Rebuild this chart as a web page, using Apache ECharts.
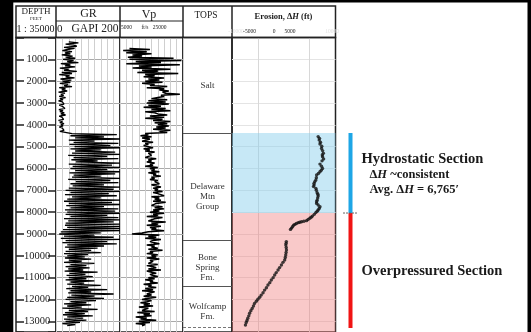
<!DOCTYPE html>
<html><head><meta charset="utf-8">
<script src="https://cdn.jsdelivr.net/npm/echarts@6/dist/echarts.min.js"></script>
<style>html,body{margin:0;padding:0;background:#fff}#c{width:531px;height:332px}</style>
</head><body><div id="c"></div>
<script>
// ---------------- DATA ----------------
const DEPTH_MIN = 0;
const DEPTH_MAX = 13490;          // depth at bottom edge of picture (ft)
const DEPTH_INTERVAL = 1000;

// Gamma ray (GAPI), sampled every 50 ft starting at 0 ft (null = no data)
const GR_START = 0, GR_STEP = 50;
const grValues = [
  null,null,null,null,40,70,30,55,65,25, 58,35,20,50,28,45,18,52,30,60,
  22,55,35,70,15,45,28,60,12,40, 25,65,18,50,10,42,30,58,14,48,
  20,45,12,38,25,50,10,30,18,35, 8,28,15,24,10,30,12,22,8,20,
  14,25,10,20,16,28,9,22,12,26, 15,30,10,18,14,24,8,20,12,25,
  15,22,10,20,14,25,12,18,50,190, 45,150,60,200,40,120,55,195,42,170,
  58,200,45,140,60,185,50,200,38,160, 55,195,48,130,62,200,40,175,52,200,
  45,160,60,200,42,185,55,140,50,200, 38,170,62,195,45,150,52,200,40,180,
  30,200,45,165,28,190,50,140,35,200, 25,175,40,200,32,150,45,195,28,185,
  35,200,30,160,45,195,25,200,38,180, 30,200,28,200,35,200,22,200,15,140,
  10,120,25,180,15,200,30,160,20,190, 35,150,28,130,40,110,30,140,25,100,
  35,90,28,110,40,80,25,120,45,95, 30,105,38,85,27,130,42,92,33,115,
  40,95,30,120,45,88,35,140,50,100, 32,160,45,110,38,180,48,120,35,150,
  30,125,45,95,25,110,35,80,20,130, 40,100,28,90,22,115,35,85,25,95,
  30,75,20,60,35
];

// Sonic velocity Vp (ft/s), sampled every 50 ft starting at 0 ft
const VP_START = 0, VP_STEP = 50;
const vpValues = [
  null,null,null,null,null,null,null,null,null,null, 8000,14500,6000,13500,7000,15000,9000,12000,7500,22000,
  8000,24500,10000,18000,7000,24000,11000,15000,9000,21000, 12000,17000,10500,23500,13000,16000,12500,19000,14000,17500,
  13000,18500,12000,16000,14500,20000,13500,19000,17500,20500, 18500,19500,24000,18000,19000,17000,15000,20000,14000,19500,
  13500,20500,14000,18000,12500,19500,15000,21000,13000,16000, 17000,20000,14500,19000,13000,18500,15500,21000,16000,20000,
  17000,20500,16500,19500,15500,21000,17500,20000,13000,14000, 11500,15000,12000,14500,13500,12000,15500,13000,14000,12500,
  14000,15500,12500,14500,13000,16000,14000,13500,15000,14500, 13000,16500,14000,15000,13500,16000,14500,15500,13000,17000,
  14500,16000,15000,17500,14000,16500,15500,18000,15000,16000, 14500,17000,16000,15500,17500,15000,16500,18000,15500,17000,
  16000,18500,15500,17000,16500,19000,15000,17500,16000,18000, 15500,19500,16500,17000,15000,18500,16000,19000,15500,17500,
  14500,19000,15500,17000,13500,18500,16000,16500,14000,19500, 15000,17000,13500,18000,14500,16500,15000,19000,14000,12000,
  8800,17500,14000,16500,13000,18000,15500,14500,16000,17500, 13500,16000,15000,17000,14000,18500,14500,15500,13500,17000,
  15000,16500,13500,17500,14500,15500,16000,14000,17000,13500, 15500,16500,14000,18000,13500,15000,16500,14500,15500,17000,
  14000,16000,13000,15500,14500,17000,12500,15000,14000,16500, 13000,15500,12000,16000,14500,13500,15000,12500,16500,13500,
  12000,15000,13500,11500,14500,12500,15500,11000,14000,13000, 12000,16000,10500,14500,12500,15000,10000,13500,11500,16500,
  11000,14500,10000,13000,12000
];

// Erosion estimate ΔH (ft) vs depth (ft)
const erosionDepth = [4540,4620,4700,4800,4880,4980,5080,5180,5300,5380,5460,5560,5650,5800,5900,6000,6080,6150,6230,6300,
  6420,6530,6600,6680,6760,6830,6910,7000,7110,7180,7260,7350,7450,7520,7600,7670,7750,7830,7900,7960,
  8020,8100,8180,8230,8280,8340,8390,8420,8440,8460,8480,8520,8560,8600,8670,8730,8790,
  9350,9430,9510,9620,9730,9850,9960,10080,10190,10300,10420,10540,10650,10770,10880,11000,11110,11230,
  11340,11460,11570,11690,11800,11900,11990,12080,12180,12300,12410,12520,12630,12750,12860,12960,13050,13170];
const erosionDH = [6650,6900,6850,7100,7000,7350,7300,7500,7650,7450,7500,7700,7400,7000,7300,7500,7250,7000,6700,6350,
  6300,6200,6000,5850,5850,5750,6200,6300,6450,6600,6650,6550,6450,6350,6350,6650,7000,6850,6650,6450,
  6200,5900,5550,5300,5050,4700,4400,3900,3450,3100,2800,2450,2150,1900,1700,1500,1300,
  500,450,400,480,520,450,380,300,180,-150,-450,-800,-1100,-1450,-1750,-2050,-2400,-2700,
  -3050,-3350,-3700,-4000,-4350,-4650,-5000,-5300,-5650,-5850,-6100,-6350,-6600,-6750,-6950,-7100,-7250,-7400];

// Formation tops (ft)
const topNames = ['Salt', 'Delaware\nMtn\nGroup', 'Bone\nSpring\nFm.', 'Wolfcamp\nFm.'];
const topDepths = [0, 4400, 9280, 11410, 13260];

// Pressure sections (ft)
const hydroTop = 4370;
const sectionBoundary = 8040;
const overBase = 13310;
const avgDH = '6,765';

// ---------------- CHART ----------------
const SERIF = 'Liberation Serif';
const TOP = 37.5;
const chart = echarts.init(document.getElementById('c'), null, {renderer: 'canvas'});

function track(left, width, show) {
  return {left: left, width: width, top: TOP, bottom: 0, show: show, borderColor: '#222', borderWidth: 1.5, backgroundColor: 'transparent'};
}
const grids = [track(16, 40, true), track(56, 64, true), track(120, 63, true), track(183, 49, true), track(232, 103.5, true), track(343, 15, false)];

function baseY(gi, extra) {
  return Object.assign({gridIndex: gi, type: 'value', inverse: true, min: DEPTH_MIN, max: DEPTH_MAX, interval: DEPTH_INTERVAL,
    axisLine: {show: false}, axisTick: {show: false}, axisLabel: {show: false}, splitLine: {show: false}}, extra || {});
}
const yAxes = [
  baseY(0, {position: 'left', axisTick: {show: true, inside: true, length: 8, lineStyle: {color: '#222', width: 1.5}},
    axisLabel: {show: true, inside: true, margin: 21, align: 'center', verticalAlign: 'middle', color: '#222', fontFamily: SERIF, fontSize: 10.5,
      formatter: v => (v > 0 && v % 1000 === 0) ? String(v) : ''}}),
  baseY(1, {position: 'left', axisTick: {show: true, inside: false, length: 8, lineStyle: {color: '#222', width: 1.5}},
    splitLine: {show: true, lineStyle: {color: '#aaa', width: 1}}}),
  baseY(2, {splitLine: {show: true, lineStyle: {color: '#aaa', width: 1}}}),
  baseY(3),
  baseY(4, {splitLine: {show: true, lineStyle: {color: '#e4e4e4', width: 1}}}),
  baseY(5)
];
function baseX(gi, min, max, interval, split) {
  return {gridIndex: gi, type: 'value', min: min, max: max, interval: interval,
    axisLine: {show: false}, axisTick: {show: false}, axisLabel: {show: false},
    splitLine: split ? {show: true, lineStyle: split} : {show: false}};
}
const xAxes = [
  baseX(0, 0, 1, 1, null),
  baseX(1, 0, 200, 20, {color: '#cfcfcf', width: 1}),
  baseX(2, 5000, 25000, 2000, {color: '#cfcfcf', width: 1}),
  baseX(3, 0, 1, 1, null),
  baseX(4, -10000, 10000, 5000, {color: ['rgba(0,0,0,0)', '#d8d8d8'], width: 1}),
  baseX(5, 0, 1, 1, null)
];

function logData(vals, start, step) {
  const out = [];
  vals.forEach((v, i) => { if (v !== null) out.push([v, start + i * step]); });
  return out;
}

const labelOffsets = [[0, 0], [0, 10], [0, 4], [0, 5]];
const topsAreas = topNames.map((n, i) => [
  {name: n, xAxis: 0, yAxis: topDepths[i], label: {offset: labelOffsets[i]}},
  {xAxis: 1, yAxis: topDepths[i + 1]}
]);
const topsLines = topDepths.slice(1).map((d, i, arr) => ({yAxis: d,
  lineStyle: {type: i === arr.length - 1 ? [3, 2] : 'solid', color: i === arr.length - 1 ? '#777' : '#555', width: i === arr.length - 1 ? 1 : 1.2}}));

const series = [
  {type: 'line', xAxisIndex: 1, yAxisIndex: 1, data: logData(grValues, GR_START, GR_STEP), showSymbol: false, symbol: 'none',
    lineStyle: {color: '#000', width: 1.3}, silent: true, animation: false, z: 3},
  {type: 'line', xAxisIndex: 2, yAxisIndex: 2, data: logData(vpValues, VP_START, VP_STEP), showSymbol: false, symbol: 'none',
    lineStyle: {color: '#000', width: 1.5}, silent: true, animation: false, z: 3},
  {type: 'line', xAxisIndex: 3, yAxisIndex: 3, data: [], silent: true, animation: false,
    markArea: {silent: true, itemStyle: {color: 'rgba(0,0,0,0)'},
      label: {show: true, position: 'inside', color: '#333', fontFamily: SERIF, fontSize: 9, lineHeight: 10, align: 'center', verticalAlign: 'middle'},
      data: topsAreas},
    markLine: {silent: true, symbol: 'none', label: {show: false}, animation: false, data: topsLines}},
  {type: 'scatter', xAxisIndex: 4, yAxisIndex: 4, data: erosionDH.map((v, i) => [v, erosionDepth[i]]),
    symbolSize: 3.4, itemStyle: {color: '#111'}, silent: true, animation: false, z: 2},
  {type: 'line', xAxisIndex: 4, yAxisIndex: 4, data: [], silent: true, animation: false, z: 4,
    markArea: {silent: true, data: [
      [{xAxis: -10000, yAxis: hydroTop, itemStyle: {color: 'rgba(135,206,235,0.47)'}}, {xAxis: 10000, yAxis: sectionBoundary}],
      [{xAxis: -10000, yAxis: sectionBoundary, itemStyle: {color: 'rgba(240,120,120,0.4)'}}, {xAxis: 10000, yAxis: DEPTH_MAX}]
    ]}},
  {type: 'line', xAxisIndex: 5, yAxisIndex: 5, data: [[0.5, hydroTop], [0.5, sectionBoundary]], symbol: 'none',
    lineStyle: {color: '#1ea6e6', width: 4}, silent: true, animation: false},
  {type: 'line', xAxisIndex: 5, yAxisIndex: 5, data: [[0.5, sectionBoundary], [0.5, overBase]], symbol: 'none',
    lineStyle: {color: '#f01414', width: 4}, silent: true, animation: false},
  {type: 'line', xAxisIndex: 5, yAxisIndex: 5, data: [[0, sectionBoundary], [1, sectionBoundary]], symbol: 'none',
    lineStyle: {color: '#666', width: 1, type: [2, 1]}, silent: true, animation: false, z: 5}
];

function txt(x, y, text, font, align, fill) {
  return {type: 'text', x: x, y: y, silent: true, z: 10,
    style: {text: text, font: font, fill: fill || '#222', align: align || 'center', verticalAlign: 'middle'}};
}
function rich(x, y, text, size, align) {
  return {type: 'text', x: x, y: y, silent: true, z: 10,
    style: {text: text, fill: '#1a1a1a', align: align || 'left', verticalAlign: 'middle',
      rich: {
        b: {fontFamily: SERIF, fontWeight: 'bold', fontSize: size, fill: '#1a1a1a'},
        i: {fontFamily: SERIF, fontWeight: 'bold', fontStyle: 'italic', fontSize: size, fill: '#1a1a1a'}
      }}};
}
function ln(x1, y1, x2, y2, w, c) {
  return {type: 'line', silent: true, z: 10, shape: {x1: x1, y1: y1, x2: x2, y2: y2}, style: {stroke: c || '#222', lineWidth: w}};
}

const graphics = [
  {type: 'rect', silent: true, z: 20, shape: {x: 0, y: 0, width: 13.3, height: 332}, style: {fill: '#000'}},
  {type: 'rect', silent: true, z: 20, shape: {x: 0, y: 0, width: 531, height: 2.5}, style: {fill: '#000'}},
  {type: 'rect', silent: true, z: 20, shape: {x: 527.5, y: 0, width: 4, height: 332}, style: {fill: '#000'}},
  {type: 'rect', silent: true, z: 10, shape: {x: 16, y: 6, width: 319.5, height: 31.5}, style: {fill: 'none', stroke: '#222', lineWidth: 1.5}},
  ln(56, 6, 56, TOP, 1.5), ln(120, 6, 120, TOP, 1.5), ln(183, 6, 183, TOP, 1.5), ln(232, 6, 232, TOP, 1.5),
  ln(56, 21, 183, 21, 1),
  txt(36, 11.5, 'DEPTH', '9px ' + SERIF),
  txt(36, 18.5, 'FEET', '5px ' + SERIF),
  txt(35.5, 29, '1 : 35000', '10px ' + SERIF),
  txt(88.5, 14, 'GR', '12px ' + SERIF),
  txt(57, 29, '0', '11px ' + SERIF, 'left'),
  txt(118.5, 29, 'GAPI 200', '11.5px ' + SERIF, 'right'),
  txt(149, 14.5, 'Vp', '12px ' + SERIF),
  txt(121, 28, '5000', '5.5px ' + SERIF, 'left'),
  txt(145, 28, 'ft/s', '5.5px ' + SERIF),
  txt(159.5, 28, '25000', '5.5px ' + SERIF),
  txt(206, 15, 'TOPS', '9.5px ' + SERIF),
  rich(283.5, 16.5, '{b|Erosion, Δ}{i|H}{b| (ft)}', 8.5, 'center'),
  txt(236, 31.5, '-10000', '5.5px ' + SERIF, 'center', '#e2e2e2'),
  txt(249.5, 31.5, '-5000', '5.5px ' + SERIF),
  txt(274, 31.5, '0', '5.5px ' + SERIF),
  txt(290, 31.5, '5000', '5.5px ' + SERIF),
  txt(332, 31.5, '10000', '5.5px ' + SERIF, 'center', '#e2e2e2'),
  rich(361.5, 159.5, '{b|Hydrostatic Section}', 14.5),
  rich(369.5, 175, '{b|Δ}{i|H}{b| ~consistent}', 12.5),
  rich(369.5, 190, '{b|Avg. Δ}{i|H}{b| = ' + avgDH + '′}', 12.5),
  rich(361.5, 271, '{b|Overpressured Section}', 14.5)
];

chart.setOption({
  animation: false,
  backgroundColor: '#fff',
  grid: grids,
  xAxis: xAxes,
  yAxis: yAxes,
  series: series,
  graphic: graphics
});
</script></body></html>
